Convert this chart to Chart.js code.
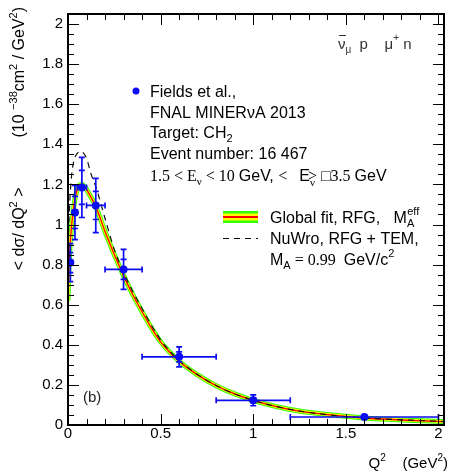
<!DOCTYPE html>
<html>
<head>
<meta charset="utf-8">
<script src="https://cdn.jsdelivr.net/npm/chart.js@4.4.1/dist/chart.umd.min.js"></script>
<style>
  html, body { margin: 0; padding: 0; background: #fff; }
  #wrap { width: 450px; height: 471px; }
</style>
</head>
<body>
<div id="wrap"><canvas id="c"></canvas></div>
<script>
"use strict";

// MINERvA antineutrino data, <dsigma/dQ2> per Q2 bin
const dataQ2 = [0.0125, 0.0375, 0.075, 0.15, 0.3, 0.6, 1.0, 1.6];
const dataXsec = [0.81, 1.06, 1.185, 1.095, 0.776, 0.34, 0.123, 0.04];
const dataQ2Err = [0.0125, 0.0125, 0.025, 0.05, 0.1, 0.2, 0.2, 0.4];
const dataErrTot = [0.095, 0.135, 0.15, 0.135, 0.10, 0.05, 0.027, 0.008];
const dataErrStat = [0.05, 0.08, 0.085, 0.07, 0.05, 0.025, 0.012, 0.004];

// global fit (RFG, M_A eff)
const fitQ2 = [0, 0.005, 0.01, 0.02, 0.03, 0.04, 0.05, 0.06, 0.075, 0.09, 0.1, 0.125, 0.15, 0.2, 0.25, 0.3, 0.35, 0.4, 0.45, 0.5, 0.6, 0.7, 0.8, 0.9, 1.0, 1.2, 1.4, 1.6, 1.8, 2.03];
const fitXsec = [0.62, 0.78, 0.88, 1.0, 1.08, 1.14, 1.175, 1.195, 1.2, 1.19, 1.175, 1.135, 1.09, 0.965, 0.85, 0.745, 0.65, 0.565, 0.485, 0.415, 0.318, 0.25, 0.196, 0.155, 0.123, 0.077, 0.052, 0.035, 0.025, 0.017];

// NuWro RFG + TEM
const nuwroQ2 = [0, 0.01, 0.02, 0.03, 0.04, 0.05, 0.065, 0.08, 0.1, 0.125, 0.15, 0.2, 0.25, 0.3, 0.4, 0.5, 0.6, 0.8, 1.0, 1.2, 1.5, 2.03];
const nuwroXsec = [0.9, 1.12, 1.25, 1.31, 1.34, 1.355, 1.365, 1.36, 1.33, 1.25, 1.19, 1.03, 0.875, 0.76, 0.58, 0.425, 0.322, 0.197, 0.123, 0.078, 0.042, 0.017];

const xTicks = [0, 0.5, 1, 1.5, 2];
const yTicks = [0, 0.2, 0.4, 0.6, 0.8, 1, 1.2, 1.4, 1.6, 1.8, 2];

const SANS = '"Liberation Sans", Arial, sans-serif';
const SERIF = '"Liberation Serif", "Times New Roman", serif';
const BLUE = '#0c0cf2';

const pts = (xs, ys) => xs.map((x, i) => ({ x, y: ys[i] }));

function bandLine(color, width, order) {
  return {
    data: pts(fitQ2, fitXsec),
    showLine: true,
    borderColor: color,
    borderWidth: width,
    pointRadius: 0,
    cubicInterpolationMode: 'monotone',
    order,
  };
}

// draws text runs with their own font and vertical offset
function richWidth(ctx, parts) {
  let w = 0;
  parts.forEach(p => { ctx.font = p.f; w += ctx.measureText(p.t).width + (p.dx || 0); });
  return w;
}
function drawRich(ctx, x, y, parts, align) {
  if (align === 'right') x -= richWidth(ctx, parts);
  parts.forEach(p => {
    ctx.font = p.f;
    ctx.fillText(p.t, x, y + (p.dy || 0));
    x += ctx.measureText(p.t).width + (p.dx || 0);
  });
}

const s16 = '16px ' + SANS, s15 = '15px ' + SANS, s11 = '11px ' + SANS, s10 = '10px ' + SANS;
const r16 = '16px ' + SERIF, r11 = '11px ' + SERIF;

const errorBars = {
  id: 'errorBars',
  afterDatasetsDraw(chart) {
    const { ctx, scales: { x, y } } = chart;
    ctx.save();
    ctx.strokeStyle = BLUE;
    ctx.lineWidth = 1.7;
    const cap = 3;
    dataQ2.forEach((q, i) => {
      const px = x.getPixelForValue(q), py = y.getPixelForValue(dataXsec[i]);
      const x0 = x.getPixelForValue(q - dataQ2Err[i]), x1 = x.getPixelForValue(q + dataQ2Err[i]);
      const yt = y.getPixelForValue(dataXsec[i] + dataErrTot[i]), yb = y.getPixelForValue(dataXsec[i] - dataErrTot[i]);
      const st = y.getPixelForValue(dataXsec[i] + dataErrStat[i]), sb = y.getPixelForValue(dataXsec[i] - dataErrStat[i]);
      ctx.beginPath();
      ctx.moveTo(x0, py); ctx.lineTo(x1, py);
      ctx.moveTo(x0, py - cap); ctx.lineTo(x0, py + cap);
      ctx.moveTo(x1, py - cap); ctx.lineTo(x1, py + cap);
      ctx.moveTo(px, yt); ctx.lineTo(px, yb);
      [yt, yb, st, sb].forEach(v => { ctx.moveTo(px - cap, v); ctx.lineTo(px + cap, v); });
      ctx.stroke();
    });
    ctx.restore();
  },
};

const frame = {
  id: 'frame',
  afterDraw(chart) {
    const { ctx, chartArea: a, scales: { x, y } } = chart;
    ctx.save();
    ctx.strokeStyle = '#000';
    ctx.lineWidth = 1;
    ctx.beginPath();
    // inward ticks on all four sides
    for (let k = 0; k <= 20; k++) {
      const v = k / 10, px = Math.round(x.getPixelForValue(v)) + 0.5;
      const len = k % 5 === 0 ? 11 : 6;
      ctx.moveTo(px, a.bottom); ctx.lineTo(px, a.bottom - len);
      ctx.moveTo(px, a.top); ctx.lineTo(px, a.top + len);
    }
    for (let k = 0; k <= 40; k++) {
      const v = k / 20, py = Math.round(y.getPixelForValue(v)) + 0.5;
      const len = k % 4 === 0 ? 11 : 6;
      ctx.moveTo(a.left, py); ctx.lineTo(a.left + len, py);
      ctx.moveTo(a.right, py); ctx.lineTo(a.right - len, py);
    }
    ctx.stroke();
    ctx.lineWidth = 2;
    ctx.strokeRect(a.left, a.top, a.right - a.left, a.bottom - a.top);

    ctx.fillStyle = '#000';
    ctx.textBaseline = 'alphabetic';

    // legend: data
    ctx.fillStyle = BLUE;
    ctx.beginPath(); ctx.arc(136, 91, 3.5, 0, Math.PI * 2); ctx.fill();
    ctx.fillStyle = '#000';
    drawRich(ctx, 150, 97, [{ t: 'Fields et al.,', f: s16 }]);
    drawRich(ctx, 150, 118, [{ t: 'FNAL MINERνA 2013', f: s16 }]);
    drawRich(ctx, 150, 138, [{ t: 'Target: CH', f: s16 }, { t: '2', f: s11, dy: 4 }]);
    drawRich(ctx, 150, 159, [{ t: 'Event number: 16 467', f: s16 }]);
    drawRich(ctx, 150, 181, [
      { t: '1.5 < E', f: r16 }, { t: 'ν', f: r11, dy: 4 },
      { t: ' < 10 ', f: r16 }, { t: 'GeV, ', f: s16 }, { t: '<   ', f: r16 },
      { t: 'E', f: s16 }, { t: 'ν', f: r11, dy: 5, dx: -7 }, { t: '>', f: r16 },
      { t: ' □3.5 ', f: r16 }, { t: 'GeV', f: s16 },
    ]);

    // legend: global fit band
    const lx = 223, lw = 35;
    [['#33ff00', 12], ['#ffff00', 7], ['#ff0000', 2]].forEach(([c, h]) => {
      ctx.fillStyle = c;
      ctx.fillRect(lx, 217 - h / 2, lw, h);
    });
    ctx.fillStyle = '#000';
    drawRich(ctx, 270, 223, [
      { t: 'Global fit, RFG,   M', f: s16 }, { t: 'A', f: s11, dy: 4, dx: -7 }, { t: 'eff', f: s11, dy: -8 },
    ]);

    // legend: NuWro
    ctx.setLineDash([6, 5]);
    ctx.lineWidth = 1.2;
    ctx.beginPath(); ctx.moveTo(lx, 238.5); ctx.lineTo(lx + lw, 238.5); ctx.stroke();
    ctx.setLineDash([]);
    drawRich(ctx, 270, 244, [{ t: 'NuWro, RFG + TEM,', f: s16 }]);
    drawRich(ctx, 270, 265, [
      { t: 'M', f: s16 }, { t: 'A', f: s11, dy: 4 }, { t: ' = 0.99  ', f: r16 },
      { t: 'GeV/c', f: s16 }, { t: '2', f: s11, dy: -8 },
    ]);

    // reaction
    ctx.fillStyle = '#333';
    const nuX = 338;
    drawRich(ctx, nuX, 49, [
      { t: 'ν', f: s15 }, { t: 'μ', f: s10, dy: 4 }, { t: '  p    ', f: s15 },
      { t: 'μ', f: s15 }, { t: '+', f: s10, dy: -8 }, { t: ' n', f: s15 },
    ]);
    ctx.strokeStyle = '#333';
    ctx.lineWidth = 1;
    ctx.beginPath(); ctx.moveTo(nuX + 1, 35.5); ctx.lineTo(nuX + 8, 35.5); ctx.stroke();

    // panel label
    ctx.fillStyle = '#222';
    drawRich(ctx, 83, 402, [{ t: '(b)', f: s15 }]);

    // x axis title
    ctx.fillStyle = '#000';
    drawRich(ctx, 448, 468, [
      { t: 'Q', f: s15 }, { t: '2', f: s10, dy: -7 }, { t: '    (GeV', f: s15 },
      { t: '2', f: s10, dy: -7 }, { t: ')', f: s15 },
    ], 'right');

    // y axis title, rotated
    ctx.translate(24, 7);
    ctx.rotate(-Math.PI / 2);
    drawRich(ctx, 0, 0, [
      { t: '< d', f: s16 }, { t: 'σ', f: s16 }, { t: '/ dQ', f: s16 }, { t: '2', f: s11, dy: -7 },
      { t: ' >', f: s16, dx: 50 }, { t: '(10 ', f: s16 }, { t: '−38', f: s11, dy: -7 }, { t: 'cm', f: s16 },
      { t: '2', f: s11, dy: -7 }, { t: ' / GeV', f: s16 }, { t: '2', f: s11, dy: -7 }, { t: ')', f: s16 },
    ], 'right');
    ctx.restore();
  },
};

new Chart(document.getElementById('c'), {
  type: 'scatter',
  data: {
    datasets: [
      {
        data: pts(dataQ2, dataXsec),
        pointRadius: 4,
        pointBackgroundColor: BLUE,
        pointBorderWidth: 0,
        order: 0,
      },
      {
        data: pts(nuwroQ2, nuwroXsec),
        showLine: true,
        borderColor: '#111',
        borderWidth: 1.2,
        borderDash: [6, 5],
        pointRadius: 0,
        cubicInterpolationMode: 'monotone',
        order: 1,
      },
      bandLine('#ff0000', 1.3, 2),
      bandLine('#ffff00', 3, 3),
      bandLine('#33ff00', 5, 4),
    ],
  },
  options: {
    responsive: true,
    maintainAspectRatio: false,
    animation: false,
    events: [],
    layout: { padding: { left: 0, top: 7, right: 6, bottom: 0 } },
    plugins: { legend: { display: false }, tooltip: { enabled: false } },
    scales: {
      x: {
        type: 'linear',
        min: 0,
        max: 2.03,
        grid: { display: false, drawTicks: false },
        border: { display: false },
        afterBuildTicks: (s) => { s.ticks = xTicks.map(value => ({ value })); },
        afterFit: (s) => { s.height = 46; },
        ticks: {
          color: '#000',
          padding: 0,
          font: { family: SANS, size: 15 },
          callback: (v) => String(+v.toFixed(1)),
        },
      },
      y: {
        min: 0,
        max: 2.05,
        grid: { display: false, drawTicks: false },
        border: { display: false },
        afterBuildTicks: (s) => { s.ticks = yTicks.map(value => ({ value })); },
        afterFit: (s) => { s.width = 68; },
        ticks: {
          color: '#000',
          padding: 5,
          font: { family: SANS, size: 15 },
          callback: (v) => String(+v.toFixed(1)),
        },
      },
    },
  },
  plugins: [errorBars, frame],
});
</script>
</body>
</html>
